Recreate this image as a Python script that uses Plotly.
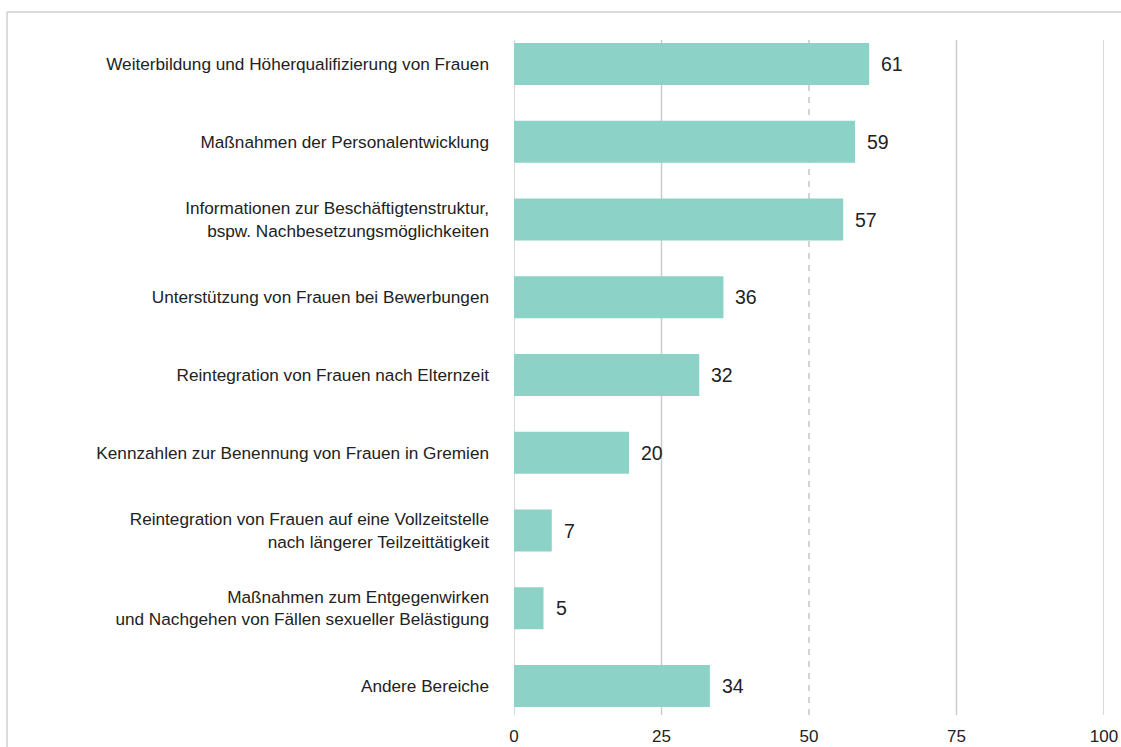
import plotly.graph_objects as go

categories = [
    "Weiterbildung und Höherqualifizierung von Frauen",
    "Maßnahmen der Personalentwicklung",
    "Informationen zur Beschäftigtenstruktur,<br>bspw. Nachbesetzungsmöglichkeiten",
    "Unterstützung von Frauen bei Bewerbungen",
    "Reintegration von Frauen nach Elternzeit",
    "Kennzahlen zur Benennung von Frauen in Gremien",
    "Reintegration von Frauen auf eine Vollzeitstelle<br>nach längerer Teilzeittätigkeit",
    "Maßnahmen zum Entgegenwirken<br>und Nachgehen von Fällen sexueller Belästigung",
    "Andere Bereiche",
]
values = [60.2, 57.8, 55.8, 35.5, 31.4, 19.5, 6.4, 5.0, 33.2]
labels = ["61", "59", "57", "36", "32", "20", "7", "5", "34"]
x_ticks = [0, 25, 50, 75, 100]
solid_grid = [0, 25, 75, 100]
dashed_grid = [50]

BAR = "#8dd2c6"
GRID = "#cccccc"
TEXT = "#222222"
FONT = "Liberation Sans, Arial, sans-serif"

W, H = 1121, 747
L, R, T, B = 514, 17, 40, 32
pw, ph = W - L - R, H - T - B

fig = go.Figure()
fig.add_trace(go.Bar(
    y=categories, x=values, orientation="h",
    marker=dict(color=BAR, line=dict(width=0)),
    hoverinfo="x+y",
))

annotations = [
    dict(x=v, y=c, text=t, xref="x", yref="y", showarrow=False,
         xanchor="left", yanchor="middle", xshift=10,
         font=dict(family=FONT, size=19.5, color=TEXT))
    for c, v, t in zip(categories, values, labels)
]

shapes = []
for g in solid_grid:
    shapes.append(dict(type="line", xref="x", yref="paper", x0=g, x1=g, y0=0, y1=1,
                       line=dict(color=GRID, width=1.5), layer="below"))
for g in dashed_grid:
    shapes.append(dict(type="line", xref="x", yref="paper", x0=g, x1=g, y0=0, y1=1,
                       line=dict(color="#b8b8b8", width=1.2, dash="6px,6px"), layer="below"))

# outer frame (top and left lines)
fx0 = (7 - L) / pw
fx1 = (W - L) / pw
fy_top = (H - B - 12) / ph
fy_bot = (H - B - H) / ph
shapes.append(dict(type="line", xref="paper", yref="paper", x0=fx0, x1=fx1, y0=fy_top, y1=fy_top,
                   line=dict(color="#cfcfcf", width=1.5)))
shapes.append(dict(type="line", xref="paper", yref="paper", x0=fx0, x1=fx0, y0=fy_bot, y1=fy_top,
                   line=dict(color="#cfcfcf", width=1.5)))

n = len(categories)
fig.update_layout(
    width=W, height=H,
    margin=dict(l=L, r=R, t=T, b=B, pad=0, autoexpand=False),
    paper_bgcolor="white", plot_bgcolor="white",
    bargap=0.46,
    showlegend=False,
    font=dict(family=FONT, size=17, color=TEXT),
    annotations=annotations,
    shapes=shapes,
    xaxis=dict(range=[0, 100], tickvals=x_ticks, showgrid=False, zeroline=False,
               showline=False, ticks="", ticklabelstandoff=9, automargin=False,
               tickfont=dict(family=FONT, size=17, color=TEXT), fixedrange=True),
    yaxis=dict(categoryorder="array", categoryarray=categories,
               range=[n - 1 + 0.373, -0.309], showgrid=False, zeroline=False,
               showline=False, ticks="", ticklabelstandoff=24, automargin=False,
               tickfont=dict(family=FONT, size=17.2, color=TEXT), fixedrange=True),
)

fig.write_html(
    "out.html",
    config={"displayModeBar": False},
    post_script="document.body.style.margin='0';document.body.style.overflow='hidden';",
)
